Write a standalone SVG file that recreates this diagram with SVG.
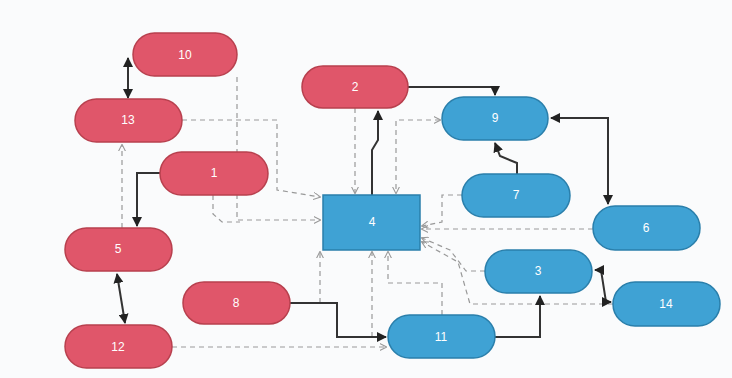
<svg xmlns="http://www.w3.org/2000/svg" width="732" height="378" viewBox="0 0 732 378">
<style>
.r{fill:#e0566a;stroke:#b8404e;stroke-width:1.5}
.b{fill:#3fa2d4;stroke:#2a7fab;stroke-width:1.5}
.t{fill:#fff;font-family:"Liberation Sans",Arial,sans-serif;font-size:12px;text-anchor:middle;dominant-baseline:central}
.s{fill:none;stroke:#333;stroke-width:2}
.d{fill:none;stroke:#999;stroke-width:1.2;stroke-dasharray:5 4}
</style>
<defs>
<marker id="a" viewBox="0 0 10 10" refX="9" refY="5" markerWidth="5" markerHeight="5" orient="auto-start-reverse"><path d="M0,0L10,5L0,10z" fill="#222"/></marker>
<marker id="o" viewBox="0 0 10 10" refX="9" refY="5" markerWidth="6" markerHeight="6" orient="auto-start-reverse"><path d="M0,0L10,5L0,10" fill="none" stroke="#999" stroke-width="1.5"/></marker>
</defs>
<rect width="732" height="378" fill="#fafbfc"/>
<g id="connectors">
<path class="d" d="M182,120H277V190L320,197" marker-end="url(#o)"/>
<path class="d" d="M237,77V220H320" marker-end="url(#o)"/>
<path class="d" d="M213,195V214L222,222H240"/>
<path class="d" d="M122,228V145" marker-end="url(#o)"/>
<path class="d" d="M172,347H386" marker-end="url(#o)"/>
<path class="d" d="M355,108V193" marker-end="url(#o)"/>
<path class="d" d="M440,120H396V193" marker-start="url(#o)" marker-end="url(#o)"/>
<path class="d" d="M462,195H442V222L422,226" marker-end="url(#o)"/>
<path class="d" d="M593,229H422" marker-end="url(#o)"/>
<path class="d" d="M485,271H466L450,250L422,238" marker-end="url(#o)"/>
<path class="d" d="M613,304H470L458,262L422,242" marker-end="url(#o)"/>
<path class="d" d="M442,315V283H388V252" marker-end="url(#o)"/>
<path class="d" d="M372,337V252" marker-end="url(#o)"/>
<path class="d" d="M320,303V252" marker-end="url(#o)"/>
<path class="s" d="M128,98V58" marker-start="url(#a)" marker-end="url(#a)"/>
<path class="s" d="M408,87H495V95" marker-end="url(#a)"/>
<path class="s" d="M372,195V150L378,140V111" marker-end="url(#a)"/>
<path class="s" d="M551,118H608V204" marker-start="url(#a)" marker-end="url(#a)"/>
<path class="s" d="M517,174V163L500,156L495,143" marker-end="url(#a)"/>
<path class="s" d="M160,173H137V226" marker-end="url(#a)"/>
<path class="s" d="M117,274L125,323" marker-start="url(#a)" marker-end="url(#a)"/>
<path class="s" d="M290,303H337V337H386" marker-end="url(#a)"/>
<path class="s" d="M495,337H540V296" marker-end="url(#a)"/>
<path class="s" d="M595,270H601L606,302H611" marker-start="url(#a)" marker-end="url(#a)"/>
</g>
<g id="n10"><rect class="r" x="133" y="33" width="104" height="43" rx="21.5"/><text class="t" x="185" y="55">10</text></g>
<g id="n13"><rect class="r" x="75" y="99" width="107" height="43" rx="21.5"/><text class="t" x="128" y="120">13</text></g>
<g id="n2"><rect class="r" x="302" y="66" width="106" height="42" rx="21"/><text class="t" x="355" y="87">2</text></g>
<g id="n9"><rect class="b" x="442" y="97" width="106" height="43" rx="21.5"/><text class="t" x="495" y="118">9</text></g>
<g id="n1"><rect class="r" x="160" y="152" width="108" height="43" rx="21.5"/><text class="t" x="214" y="173">1</text></g>
<g id="n4"><rect class="b" x="323" y="195" width="97" height="55"/><text class="t" x="372" y="222">4</text></g>
<g id="n7"><rect class="b" x="462" y="174" width="108" height="43" rx="21.5"/><text class="t" x="516" y="195">7</text></g>
<g id="n5"><rect class="r" x="65" y="228" width="107" height="43" rx="21.5"/><text class="t" x="118" y="249">5</text></g>
<g id="n6"><rect class="b" x="593" y="206" width="107" height="44" rx="22"/><text class="t" x="646" y="228">6</text></g>
<g id="n3"><rect class="b" x="485" y="250" width="107" height="43" rx="21.5"/><text class="t" x="538" y="271">3</text></g>
<g id="n14"><rect class="b" x="613" y="282" width="107" height="44" rx="22"/><text class="t" x="666" y="304">14</text></g>
<g id="n8"><rect class="r" x="183" y="282" width="107" height="42" rx="21"/><text class="t" x="236" y="303">8</text></g>
<g id="n11"><rect class="b" x="388" y="315" width="107" height="43" rx="21.5"/><text class="t" x="441" y="337">11</text></g>
<g id="n12"><rect class="r" x="65" y="325" width="107" height="43" rx="21.5"/><text class="t" x="118" y="347">12</text></g>
</svg>
